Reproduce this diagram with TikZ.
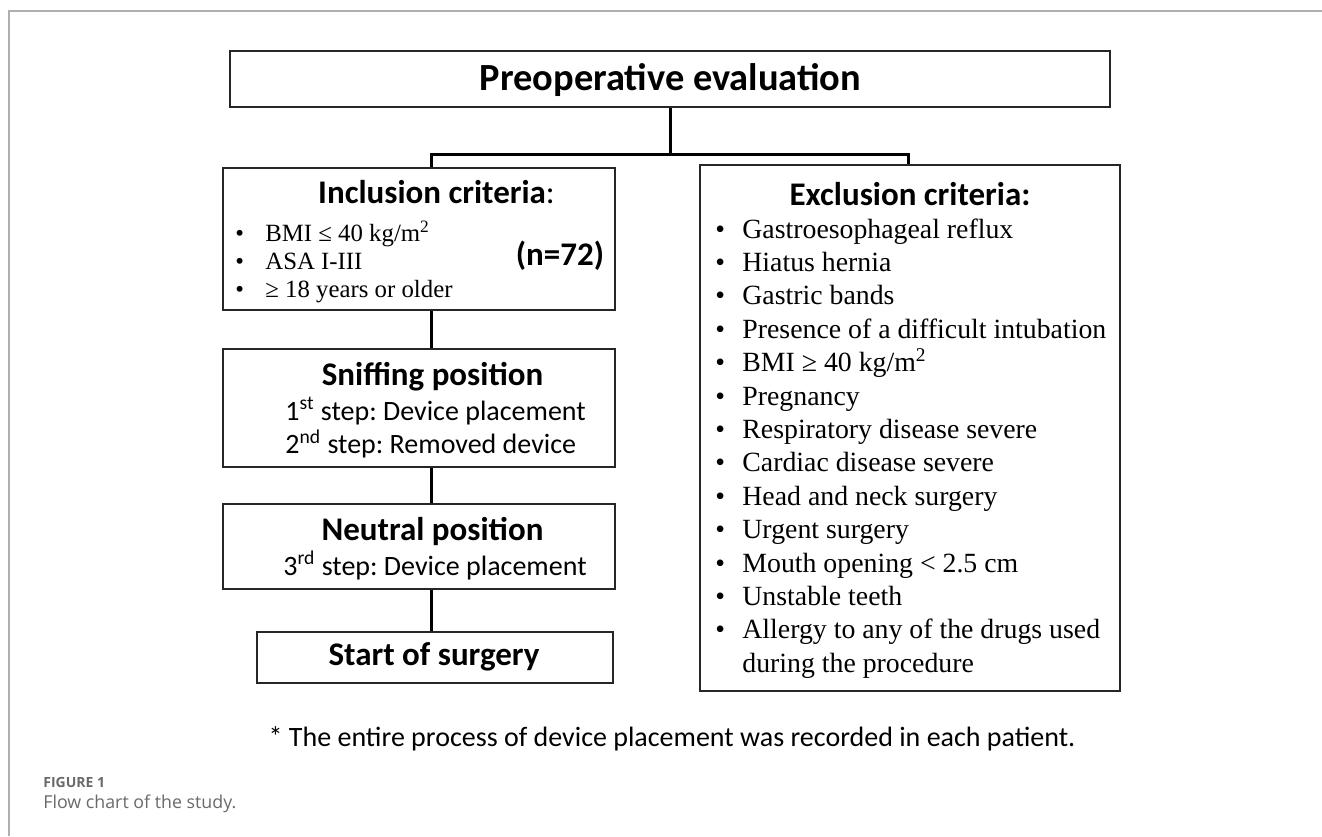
\documentclass[tikz,border=0pt]{standalone}
\usepackage{fontspec}
\setmainfont{Liberation Serif}
\setsansfont{Carlito}
\newfontfamily\capfont{Open Sans}
\usepackage{xcolor}
\usetikzlibrary{positioning}
\frenchspacing

\definecolor{framegray}{RGB}{175,175,175}
\definecolor{capgray}{RGB}{105,105,105}

\tikzset{
  box/.style={draw=black!85, line width=1pt, inner sep=0pt},
  link/.style={line width=1.5pt},
  ttl/.style={font=\sffamily\bfseries\fontsize{16.5}{20}\selectfont, inner sep=0pt, anchor=base},
  stp/.style={font=\sffamily\fontsize{14}{16.5}\selectfont, inner sep=0pt, anchor=base west},
  lst/.style={inner sep=0pt, anchor=base west},
}

\begin{document}
\begin{tikzpicture}[x=0.5pt,y=-0.5pt]
  \useasboundingbox (0,0) rectangle (1322,836);
  % page frame
  \draw[framegray, line width=1pt] (9,836) -- (9,10.5) -- (1322,10.5);

  % boxes
  \node[box, minimum width=440pt, minimum height=28pt] (pre) at (670,79) {};
  \node[box, minimum width=196pt, minimum height=71pt] (incl) at (419,239) {};
  \node[box, minimum width=196pt, minimum height=59pt] (sniff) at (419,408) {};
  \node[box, minimum width=196pt, minimum height=42.5pt] (neutral) at (419,546.5) {};
  \node[box, minimum width=178pt, minimum height=25.5pt] (start) at (435,657.5) {};
  \node[box, minimum width=210pt, minimum height=263pt] (excl) at (910,428) {};

  % connectors
  \coordinate (split) at (670,154);
  \coordinate (jl) at (431,154);
  \coordinate (jr) at (908,154);
  \draw[link] (pre.south -| split) -- (split);
  \draw[link] (jl |- incl.north) -- (jl) -- (jr) -- (jr |- excl.north);
  \draw[link] (jl |- incl.south) -- (jl |- sniff.north);
  \draw[link] (jl |- sniff.south) -- (jl |- neutral.north);
  \draw[link] (jl |- neutral.south) -- (jl |- start.north);

  % texts
  \node[ttl, font=\sffamily\bfseries\fontsize{19.2}{23}\selectfont] (preT) at (670.5,90) {Preoperative evaluation};

  \node[ttl] (inclT) at (436.5,203) {Inclusion criteria\textmd{:}};
  \node[lst, font=\fontsize{12.4}{14}\selectfont] (inclL) at (235,241) {%
    \begin{tabular}[t]{@{}p{15pt}@{}l@{}}
      \textbullet & BMI ≤ 40 kg/m\textsuperscript{2}\\
      \textbullet & ASA I-III\\
      \textbullet & ≥ 18 years or older
    \end{tabular}};
  \node[ttl] (nT) at (560,265) {(n=72)};

  \node[ttl] (sniffT) at (432.5,385) {Sniffing position};
  \node[stp] (sniffL) at (285,420) {%
    \begin{tabular}[t]{@{}l@{}}
      1\textsuperscript{st} step: Device placement\\
      2\textsuperscript{nd} step: Removed device
    \end{tabular}};

  \node[ttl] (neutralT) at (432.5,540) {Neutral position};
  \node[stp] (neutralL) at (283,575) {3\textsuperscript{rd} step: Device placement};

  \node[ttl] (startT) at (434,665) {Start of surgery};

  \node[ttl] (exclT) at (910,205) {Exclusion criteria:};
  \node[lst, font=\fontsize{13.9}{16.7}\selectfont] (exclL) at (715,238) {%
    \begin{tabular}[t]{@{}p{13.5pt}@{}l@{}}
      \textbullet & Gastroesophageal reflux\\
      \textbullet & Hiatus hernia\\
      \textbullet & Gastric bands\\
      \textbullet & Presence of a difficult intubation\\
      \textbullet & BMI ≥ 40 kg/m\textsuperscript{2}\\
      \textbullet & Pregnancy\\
      \textbullet & Respiratory disease severe\\
      \textbullet & Cardiac disease severe\\
      \textbullet & Head and neck surgery\\
      \textbullet & Urgent surgery\\
      \textbullet & Mouth opening < 2.5 cm\\
      \textbullet & Unstable teeth\\
      \textbullet & Allergy to any of the drugs used\\
                  & during the procedure
    \end{tabular}};

  \node[font=\sffamily\fontsize{14}{17}\selectfont, inner sep=0pt, anchor=base] (note) at (672,746)
    {* The entire process of device placement was recorded in each patient.};

  % caption
  \node[font=\capfont\bfseries\fontsize{7}{9}\selectfont, text=capgray, inner sep=0pt, anchor=base west] (figT) at (43,787) {FIGURE 1};
  \node[font=\capfont\fontsize{8.9}{11}\selectfont, text=capgray, inner sep=0pt, anchor=base west] (capT) at (43,808) {Flow chart of the study.};
\end{tikzpicture}
\end{document}
